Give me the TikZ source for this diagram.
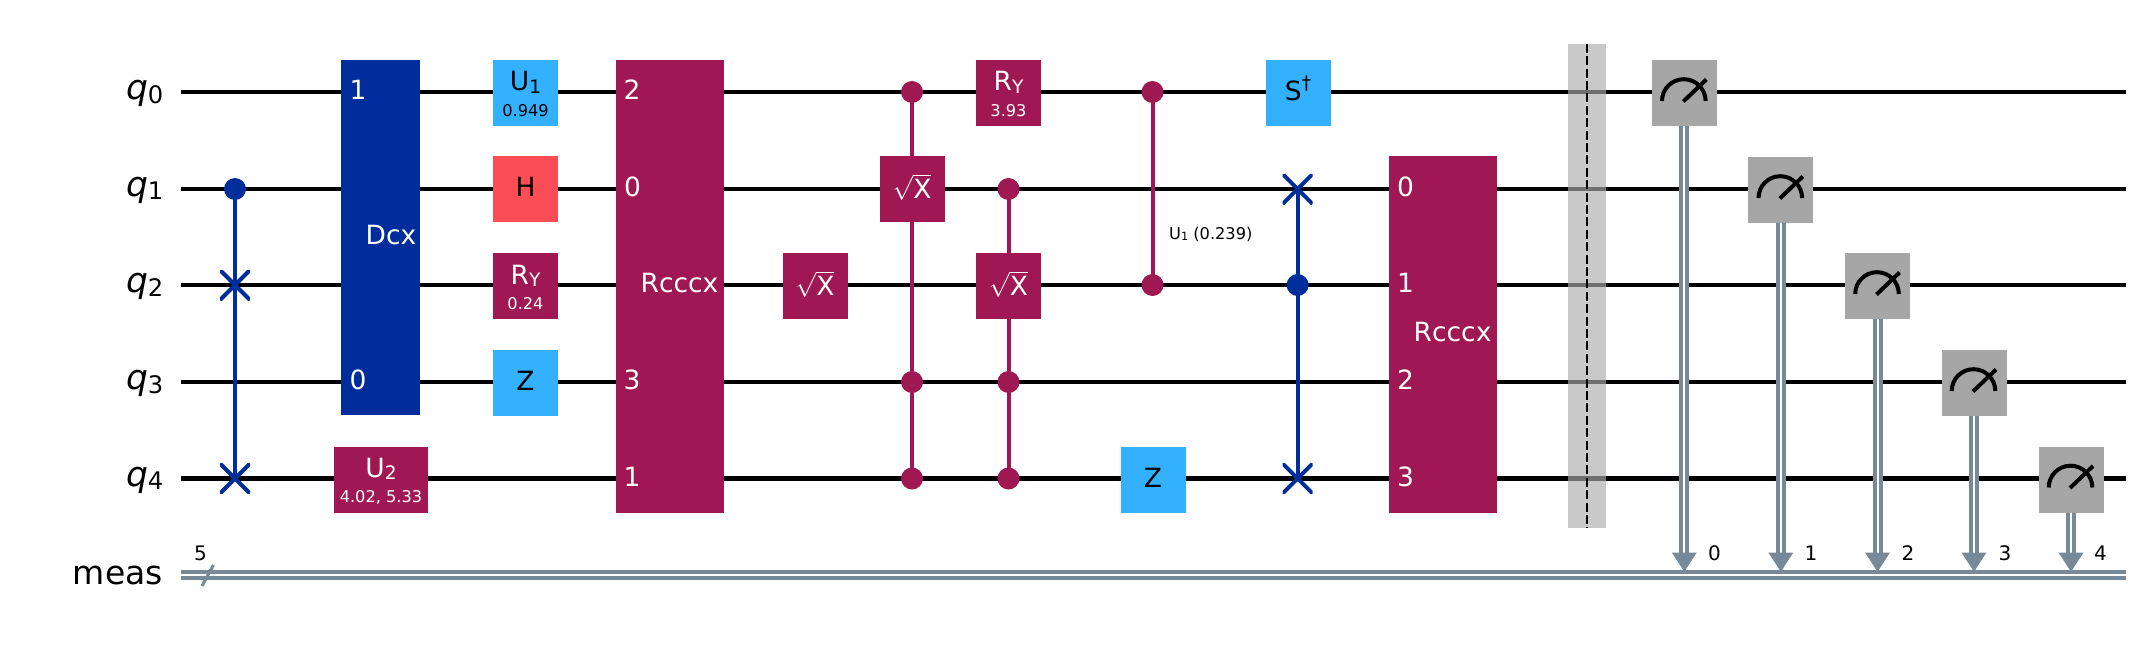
\documentclass[tikz,border=0pt]{standalone}
\usepackage{fontspec}
\usepackage{graphicx}
\setmainfont{DejaVu Sans}
\usetikzlibrary{arrows.meta,calc}
\definecolor{qblue}{HTML}{002D9C}
\definecolor{qsky}{HTML}{33B1FF}
\definecolor{qred}{HTML}{FA4D56}
\definecolor{qmag}{HTML}{9F1853}
\definecolor{qgray}{HTML}{A6A6A6}
\definecolor{qcl}{HTML}{778899}
\definecolor{qbar}{HTML}{ACACAC}
\newcommand\subs[1]{\raisebox{-0.11em}{\scalebox{0.7}{#1}}}
\newcommand\fmain{\fontsize{26.5}{30}\selectfont}
\newcommand\fsub{\fontsize{16.2}{20}\selectfont}
\newcommand\fcl{\fontsize{20}{24}\selectfont}
\newcommand\flab{\fontsize{33}{38}\selectfont}
\newcommand\fq{\fontsize{34.5}{38}\selectfont}
\newcommand\rootx{\(\sqrt{\hbox{X}}\)}
\tikzset{
  wire/.style={draw=black,line width=4.6pt},
  clwire/.style={draw=qcl,double=white,double distance=2pt,line width=4pt},
  clhead/.style={draw=qcl,line width=1pt,-{Triangle[width=24.5pt,length=19pt,fill=qcl]}},
  ctl/.style={draw=#1,line width=4pt},
  dotn/.style={circle,fill=#1,inner sep=0pt,minimum size=22pt},
  swapn/.style={inner sep=0pt,minimum size=30pt,
    path picture={\draw[#1,line width=4pt] (path picture bounding box.north west)--(path picture bounding box.south east)
    (path picture bounding box.north east)--(path picture bounding box.south west);}},
  gatebox/.style={rectangle,fill=#1,inner sep=0pt,minimum height=66pt,minimum width=65pt},
  wtext/.style={text=white,inner sep=0pt,anchor=base},
  btext/.style={text=black,inner sep=0pt,anchor=base},
  qlabel/.style={text=black,inner sep=0pt,anchor=base east,font=\flab},
  qname/.style={text=black,inner sep=0pt,anchor=base east,font=\fq},
  meter/.style={draw=black,line width=4pt},
}
\begin{document}
\begin{tikzpicture}[x=1pt,y=-1pt]
\useasboundingbox (0,0) rectangle (2148,648);
% wires
\foreach \i/\y in {0/92,1/189,2/285,3/382,4/478.5}{
  \coordinate (ws\i) at (181,\y);
  \coordinate (we\i) at (2126,\y);
  \draw[wire] (ws\i) -- (we\i);
}
\coordinate (cs) at (181,575);
\coordinate (ce) at (2126,575);
\draw[clwire] (cs) -- (ce);
\coordinate (sl1) at (202,586);
\coordinate (sl2) at (213.5,565);
\draw[draw=qcl,line width=3pt] (sl1) -- (sl2);
% labels
\node[qname] (l0) at (163.5,99.5) {{\itshape q}\subs{0}};
\node[qname] (l1) at (163.5,196) {{\itshape q}\subs{1}};
\node[qname] (l2) at (163.5,292.5) {{\itshape q}\subs{2}};
\node[qname] (l3) at (163.5,389.5) {{\itshape q}\subs{3}};
\node[qname] (l4) at (163.5,486) {{\itshape q}\subs{4}};
\node[qlabel] (lm) at (163,584.5) {meas};
\node[btext,font=\fcl] (n5) at (200.5,560.5) {5};
% first swap
\node[dotn=qblue] (a1) at (235,189) {};
\node[swapn=qblue] (a2) at (235,285) {};
\node[swapn=qblue] (a3) at (235,478.5) {};
\draw[ctl=qblue] (a1.center) -- (a3.center);
% Dcx
\node[gatebox=qblue,minimum width=79pt,minimum height=355pt] (dcx) at (380.5,237.5) {};
\node[wtext,font=\fmain] (dcxt) at (391,244) {Dcx};
\node[wtext,font=\fmain] (dcx1) at (358,99) {1};
\node[wtext,font=\fmain] (dcx0) at (358,389) {0};
% U2
\node[gatebox=qmag,minimum width=94pt] (u2) at (381,479.5) {};
\node[wtext,font=\fmain] (u2t) at (381,477) {U\subs{2}};
\node[wtext,font=\fsub] (u2s) at (381,502) {4.02, 5.33};
% column
\node[gatebox=qsky] (u1) at (525.5,93) {};
\node[btext,font=\fmain] (u1t) at (525.5,90.5) {U\subs{1}};
\node[btext,font=\fsub] (u1s) at (525.5,116) {0.949};
\node[gatebox=qred] (h) at (525.5,189) {};
\node[btext,font=\fmain] (ht) at (525.5,196.5) {H};
\node[gatebox=qmag] (ry) at (525.5,286) {};
\node[wtext,font=\fmain] (ryt) at (525.5,284) {R\subs{Y}};
\node[wtext,font=\fsub] (rys) at (525.5,309) {0.24};
\node[gatebox=qsky] (z1) at (525.5,382.5) {};
\node[btext,font=\fmain] (z1t) at (525.5,390) {Z};
% Rcccx 1
\node[gatebox=qmag,minimum width=108pt,minimum height=452.6pt] (r1) at (670,286.3) {};
\node[wtext,font=\fmain] (r1t) at (679.5,292) {Rcccx};
\node[wtext,font=\fmain] (r12) at (632,99) {2};
\node[wtext,font=\fmain] (r10) at (632.5,196) {0};
\node[wtext,font=\fmain] (r13) at (632,389) {3};
\node[wtext,font=\fmain] (r11) at (632,486) {1};
% sqrt X
\node[gatebox=qmag] (sx1) at (815,286) {};
\node[wtext,font=\fmain] (sx1t) at (815,295) {\rootx};
% ccc sx
\node[dotn=qmag] (b0) at (912,92) {};
\node[dotn=qmag] (b3) at (912,382) {};
\node[dotn=qmag] (b4) at (912,478.5) {};
\node[gatebox=qmag] (sx2) at (912,189) {};
\draw[ctl=qmag] (b0.center) -- (sx2.north);
\draw[ctl=qmag] (sx2.south) -- (b4.center);
\node[wtext,font=\fmain] (sx2t) at (912,198) {\rootx};
% RY
\node[gatebox=qmag] (ry2) at (1008.5,93) {};
\node[wtext,font=\fmain] (ry2t) at (1008.5,90.5) {R\subs{Y}};
\node[wtext,font=\fsub] (ry2s) at (1008.5,116) {3.93};
% ccc sx 2
\node[dotn=qmag] (c1) at (1008.5,189) {};
\node[dotn=qmag] (c3) at (1008.5,382) {};
\node[dotn=qmag] (c4) at (1008.5,478.5) {};
\node[gatebox=qmag] (sx3) at (1008.5,286) {};
\draw[ctl=qmag] (c1.center) -- (sx3.north);
\draw[ctl=qmag] (sx3.south) -- (c4.center);
\node[wtext,font=\fmain] (sx3t) at (1008.5,295) {\rootx};
% cu1
\node[dotn=qmag] (d0) at (1152.5,92) {};
\node[dotn=qmag] (d2) at (1152.5,285) {};
\draw[ctl=qmag] (d0.center) -- (d2.center);
\node[btext,font=\fsub] (dt) at (1210.8,239) {U\subs{1} (0.239)};
% Z
\node[gatebox=qsky] (z2) at (1153,479.5) {};
\node[btext,font=\fmain] (z2t) at (1153,487) {Z};
% S dagger
\node[gatebox=qsky] (s) at (1298,93) {};
\node[btext,font=\fmain] (st) at (1298,100.5) {S\raisebox{0.42em}{\scalebox{0.7}{†}}};
% second swap
\node[swapn=qblue] (e1) at (1297.6,189) {};
\node[dotn=qblue] (e2) at (1297.6,285) {};
\node[swapn=qblue] (e4) at (1297.6,478.5) {};
\draw[ctl=qblue] (e1.center) -- (e4.center);
% Rcccx 2
\node[gatebox=qmag,minimum width=108pt,minimum height=356.6pt] (r2) at (1443,334.3) {};
\node[wtext,font=\fmain] (r2t) at (1452.5,341) {Rcccx};
\node[wtext,font=\fmain] (r20) at (1405.5,196) {0};
\node[wtext,font=\fmain] (r21) at (1405.5,292) {1};
\node[wtext,font=\fmain] (r22) at (1405.5,389) {2};
\node[wtext,font=\fmain] (r23) at (1405.5,486) {3};
% barrier
\node[rectangle,fill=qbar,fill opacity=0.65,inner sep=0pt,minimum width=38pt,minimum height=483.5pt] (bar) at (1587,285.75) {};
\draw[draw=black,line width=2.4pt,dash pattern=on 9pt off 3.4pt] (bar.north) -- (bar.south);
% measures
\foreach \i/\x/\y in {0/1684.3/92,1/1780.8/189,2/1877.5/285,3/1974/382,4/2071/478.5}{
  \node[gatebox=qgray] (m\i) at (\x,\y+1) {};
  \draw[meter] ($(m\i.center)+(-22.3,8)$) arc (180:360:21.8);
  \coordinate (n\i a) at ($(m\i.center)+(-1,8.5)$);
  \coordinate (n\i b) at ($(m\i.center)+(22,-13.5)$);
  \draw[meter] (n\i a) -- (n\i b);
  \coordinate (t\i a) at (\x,552.7);
  \coordinate (t\i b) at (\x,571.7);
  \draw[clwire] (m\i.south) -- (t\i a);
  \draw[clhead] (t\i a) -- (t\i b);
}
\node[btext,font=\fcl] (k0) at (1714.5,560.5) {0};
\node[btext,font=\fcl] (k1) at (1811,560.5) {1};
\node[btext,font=\fcl] (k2) at (1908,560.5) {2};
\node[btext,font=\fcl] (k3) at (2005,560.5) {3};
\node[btext,font=\fcl] (k4) at (2100.5,560.5) {4};
\end{tikzpicture}
\end{document}
